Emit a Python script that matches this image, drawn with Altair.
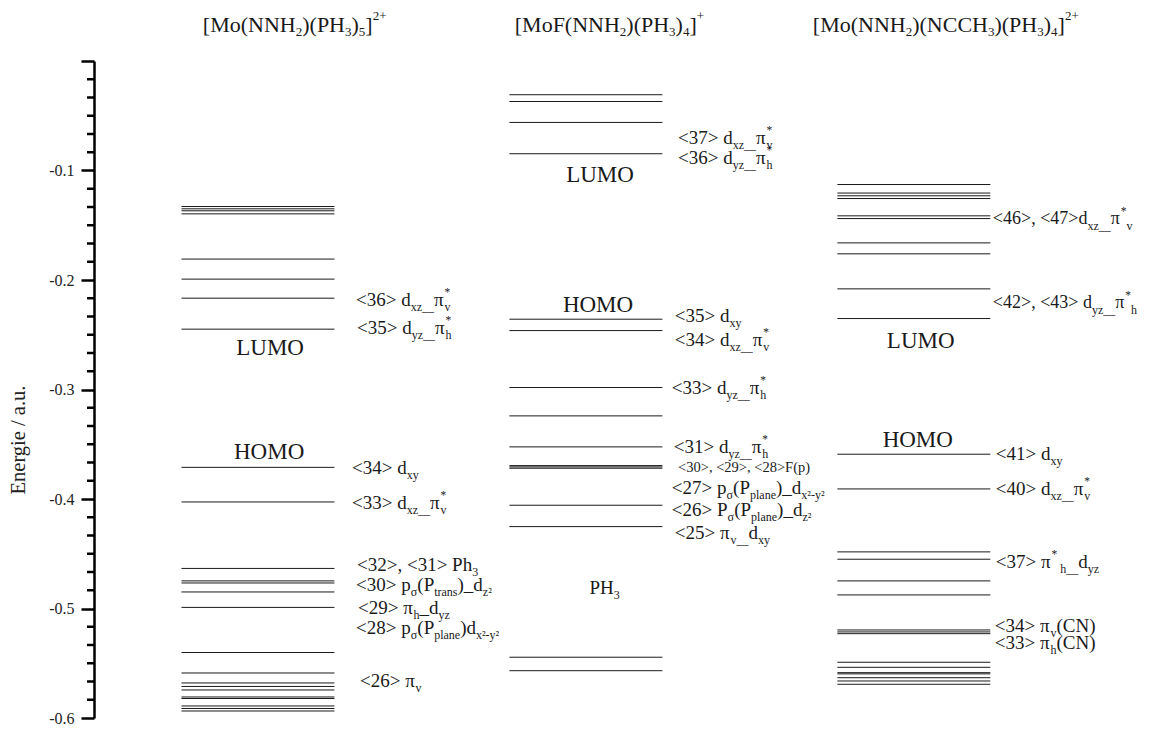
import altair as alt
import pandas as pd

# ---------------- data ----------------
levels_c1 = [-0.1329, -0.1350, -0.1368, -0.1396, -0.1809, -0.1992, -0.2166, -0.2449,
             -0.3711, -0.4027, -0.4634, -0.4748, -0.4767, -0.4849, -0.4990, -0.5402,
             -0.5589, -0.5680, -0.5712, -0.5744, -0.5808, -0.5822, -0.5890, -0.5913, -0.5936]
levels_c2 = [-0.0308, -0.0370, -0.0561, -0.0847, -0.2358, -0.2462, -0.2982, -0.3241,
             -0.3524, -0.3695, -0.3707, -0.3719, -0.4057, -0.4252, -0.5445, -0.5568]
levels_c3 = [-0.1128, -0.1206, -0.1231, -0.1256, -0.1414, -0.1439, -0.1661, -0.1761,
             -0.2081, -0.2352, -0.3591, -0.3908, -0.4483, -0.4550, -0.4748, -0.4876,
             -0.5196, -0.5214, -0.5230, -0.5491, -0.5537, -0.5586, -0.5597, -0.5632,
             -0.5662, -0.5692]

major_ticks = [-0.6, -0.5, -0.4, -0.3, -0.2, -0.1, 0.0]
minor_ticks = [-k / 60 for k in range(1, 36) if k % 6 != 0]
axis_title = ["Energie / a.u."]

# column titles (segments: text, kind)
titles = [
    (-0.168, [("[Mo(NNH", "tn"), ("2", "tsub"), (")(PH", "tn"), ("3", "tsub"), (")", "tn"),
              ("5", "tsub"), ("]", "tn"), ("2+", "tsup")]),
    (0.783, [("[MoF(NNH", "tn"), ("2", "tsub"), (")(PH", "tn"), ("3", "tsub"), (")", "tn"),
             ("4", "tsub"), ("]", "tn"), ("+", "tsup")]),
    (1.692, [("[Mo(NNH", "tn"), ("2", "tsub"), (")(NCCH", "tn"), ("3", "tsub"), (")(PH", "tn"),
             ("3", "tsub"), (")", "tn"), ("4", "tsub"), ("]", "tn"), ("2+", "tsup")]),
]
title_y = 0.033

# orbital annotations: (x anchor, energy, segments)
annotations = [
    # column 1
    (0.299, -0.2181, [("<36> d", "n"), ("xz__", "sub"), ("π", "n"), ("v", "subs"), ("*", "sup")]),
    (0.302, -0.2437, [("<35> d", "n"), ("yz__", "sub"), ("π", "n"), ("h", "subs"), ("*", "sup")]),
    (0.287, -0.3716, [("<34> d", "n"), ("xy", "sub")]),
    (0.287, -0.4033, [("<33> d", "n"), ("xz__", "sub"), ("π", "n"), ("v", "subs"), ("*", "sup")]),
    (0.302, -0.4602, [("<32>, <31> Ph", "n"), ("3", "sub")]),
    (0.299, -0.4785, [("<30> p", "n"), ("σ", "sub"), ("(P", "n"), ("trans", "sub"), (")_d", "n"), ("z²", "sub")]),
    (0.305, -0.4992, [("<29> π", "n"), ("h", "sub"), ("_d", "n"), ("yz", "sub")]),
    (0.299, -0.5178, [("<28> p", "n"), ("σ", "sub"), ("(P", "n"), ("plane", "sub"), (")d", "n"), ("x²-y²", "sub")]),
    (0.311, -0.5659, [("<26> π", "n"), ("v", "sub")]),
    # column 2
    (1.281, -0.0704, [("<37> d", "n"), ("xz__", "sub"), ("π", "n"), ("v", "subs"), ("*", "sup")]),
    (1.281, -0.0887, [("<36> d", "n"), ("yz__", "sub"), ("π", "n"), ("h", "subs"), ("*", "sup")]),
    (1.271, -0.2327, [("<35> d", "n"), ("xy", "sub")]),
    (1.271, -0.2547, [("<34> d", "n"), ("xz__", "sub"), ("π", "n"), ("v", "subs"), ("*", "sup")]),
    (1.262, -0.2988, [("<33> d", "n"), ("yz__", "sub"), ("π", "n"), ("h", "subs"), ("*", "sup")]),
    (1.268, -0.3527, [("<31> d", "n"), ("yz__", "sub"), ("π", "n"), ("h", "subs"), ("*", "sup")]),
    (1.281, -0.3719, [("<30>, <29>, <28>F(p)", "small")]),
    (1.262, -0.3902, [("<27> p", "n"), ("σ", "sub"), ("(P", "n"), ("plane", "sub"), (")_d", "n"), ("x²-y²", "sub")]),
    (1.262, -0.4100, [("<26> P", "n"), ("σ", "sub"), ("(P", "n"), ("plane", "sub"), (")_d", "n"), ("z²", "sub")]),
    (1.271, -0.4307, [("<25> π", "n"), ("v__", "sub"), ("d", "n"), ("xy", "sub")]),
    # column 3
    (2.241, -0.1441, [("<46>, <47>d", "m"), ("xz__", "sub"), ("π", "m"), ("*", "sup"), ("v", "sub")]),
    (2.241, -0.2209, [("<42>, <43> d", "m"), ("yz__", "sub"), ("π", "m"), ("*", "sup"), ("h", "sub")]),
    (2.250, -0.3591, [("<41> d", "n"), ("xy", "sub")]),
    (2.250, -0.3908, [("<40> d", "n"), ("xz__", "sub"), ("π", "n"), ("v", "subs"), ("*", "sup")]),
    (2.250, -0.4572, [("<37> π", "n"), ("*", "sup"), (" h__", "sub"), ("d", "n"), ("yz", "sub")]),
    (2.247, -0.5159, [("<34> π", "n"), ("v", "sub"), ("(CN)", "n")]),
    (2.247, -0.5312, [("<33> π", "n"), ("h", "sub"), ("(CN)", "n")]),
    # PH3 label in column 2
    (1.011, -0.4812, [("PH", "n"), ("3", "sub")]),
]

# HOMO / LUMO labels (centre x, energy, text)
frontier = [
    (0.037, -0.2620, "LUMO"), (0.034, -0.3570, "HOMO"),
    (1.043, -0.1039, "LUMO"), (1.037, -0.2227, "HOMO"),
    (2.021, -0.2555, "LUMO"), (2.012, -0.3460, "HOMO"),
]

# ---------------- layout helpers ----------------
W_PLOT, H_PLOT = 1033, 657
XDOM = [-0.5, 2.65]
PX_PER_UNIT = W_PLOT / (XDOM[1] - XDOM[0])
HALF_LEN = 0.2332
FONT = "Liberation Serif"

SIZES = {"n": 19, "m": 18, "sub": 12, "subs": 12, "sup": 11.5, "small": 14.5,
         "tn": 22, "tsub": 13, "tsup": 13}
CW = {' ': 0.25, '<': 0.564, '>': 0.564, ',': 0.25, '_': 0.5, '*': 0.5, '(': 0.333, ')': 0.333,
      '[': 0.333, ']': 0.333, '+': 0.564, '-': 0.333, 'a': 0.444, 'd': 0.5, 'e': 0.444,
      'h': 0.5, 'l': 0.278, 'n': 0.5, 'o': 0.5, 'p': 0.5, 'r': 0.333, 's': 0.389, 't': 0.278,
      'v': 0.5, 'x': 0.5, 'y': 0.5, 'z': 0.444, 'C': 0.667, 'F': 0.556, 'H': 0.722,
      'M': 0.889, 'N': 0.722, 'P': 0.556, 'π': 0.55, 'σ': 0.55, '²': 0.3}


def tw(s, size):
    return sum(CW.get(ch, 0.5) for ch in s) * size


def layout(x_anchor, y, segs):
    rows, x, stack_w = [], 0.0, None
    for text, kind in segs:
        size = SIZES[kind]
        body = text.lstrip(' ')
        lead = tw(text[:len(text) - len(body)], size)
        rows.append({"x": x_anchor + (x + lead) / PX_PER_UNIT, "y": y, "t": body,
                     "k": "sub" if kind == "subs" else kind})
        w = tw(text, size)
        if kind == "subs":
            stack_w = w
        elif stack_w is not None:
            x += max(stack_w, w)
            stack_w = None
        else:
            x += w
    return rows


seg_rows = []
for xa, segs in titles:
    seg_rows += layout(xa, title_y, segs)
for xa, ya, segs in annotations:
    seg_rows += layout(xa, ya, segs)
segs_df = pd.DataFrame(seg_rows)

lev_rows = []
for c, lv in enumerate([levels_c1, levels_c2, levels_c3]):
    for e in lv:
        lev_rows.append({"c": c, "e": e})
lev_df = pd.DataFrame(lev_rows)

fr_df = pd.DataFrame([{"x": a, "y": b, "t": t} for a, b, t in frontier])
minor_df = pd.DataFrame({"e": minor_ticks})

xs = alt.Scale(domain=XDOM, nice=False, zero=False)
ys = alt.Scale(domain=[-0.6, 0.0], nice=False, zero=False)

axis_y = alt.Axis(
    values=major_ticks,
    labelExpr="datum.value == 0 ? '' : '-' + format(abs(datum.value), '.1f')",
    title=None,
)


def Y(field):
    return alt.Y(field, type="quantitative", scale=ys, axis=axis_y)


def X(field):
    return alt.X(field, type="quantitative", scale=xs, axis=None)


levels = alt.Chart(lev_df).mark_rule(color="#1a1a1a", strokeWidth=1).encode(
    x=X("x1"), x2="x2", y=Y("e"),
).transform_calculate(
    x1=f"datum.c - {HALF_LEN}", x2=f"datum.c + {HALF_LEN}"
)

minor = alt.Chart(minor_df).mark_rule(color="black", strokeWidth=2.5).encode(
    x=alt.value(-7), x2=alt.value(0), y=Y("e"),
)

ytitle = alt.Chart(pd.DataFrame({"t": axis_title})).mark_text(
    angle=270, align="center", baseline="middle", font=FONT, fontSize=20.5, color="#222"
).encode(x=alt.value(-75), y=alt.value(379), text="t:N")

DY = {"n": 0, "m": 0, "sub": 7, "sup": -7, "small": 0, "tn": 0, "tsub": 7, "tsup": -8.5}
text_layers = []
for k, dy in DY.items():
    text_layers.append(
        alt.Chart(segs_df).transform_filter(f"datum.k == '{k}'").mark_text(
            align="left", baseline="middle", font=FONT, fontSize=SIZES[k], dy=dy, color="#1a1a1a"
        ).encode(x=X("x"), y=Y("y"), text="t:N")
    )

frontier_text = alt.Chart(fr_df).mark_text(
    align="center", baseline="middle", font=FONT, fontSize=23, color="#1a1a1a"
).encode(x=X("x"), y=Y("y"), text="t:N")

chart = alt.layer(levels, minor, ytitle, frontier_text, *text_layers).properties(
    width=W_PLOT, height=H_PLOT,
    autosize=alt.AutoSizeParams(type="none"),
    padding={"left": 86, "top": 53, "right": 14, "bottom": 8},
    background="white",
).configure_view(stroke=None).configure_axisY(
    tickSize=13, tickWidth=2.5, tickColor="black",
    domainWidth=2.5, domainColor="black", grid=False,
    labelFont=FONT, labelFontSize=16, labelColor="#222", labelPadding=7,
)

chart.save("out.html", embed_options={"renderer": "svg", "actions": False})
